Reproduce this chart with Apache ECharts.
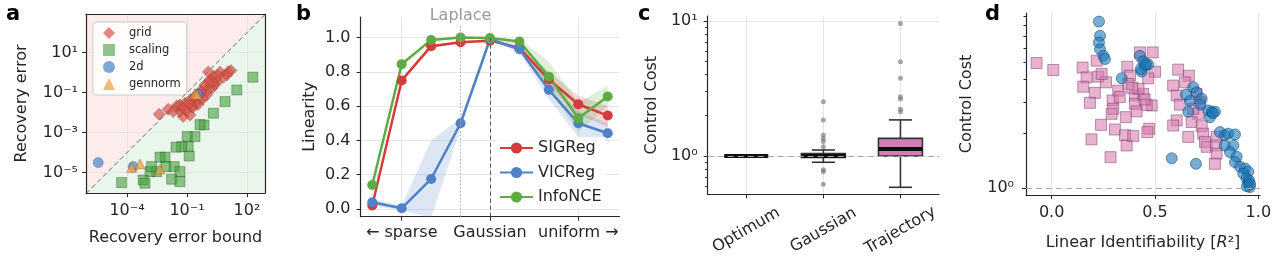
<!DOCTYPE html>
<html>
<head>
<meta charset="utf-8">
<script src="https://cdn.jsdelivr.net/npm/echarts@6/dist/echarts.min.js"></script>
<style>
html, body { margin: 0; padding: 0; background: #ffffff; }
#chart { width: 1280px; height: 259px; }
</style>
</head>
<body>
<div id="chart"></div>
<script>
// ---- panel a: recovery error vs bound (log10 of both) ----
const gridLog10 = [
    [-2.39, -2.08], [-1.94, -1.83], [-1.52, -1.67], [-1.35, -1.95], [-1.69, -1.95],
    [-1.19, -2.2], [-0.85, -2.12], [-1.35, -1.62], [-1.1, -1.53], [-1.02, -1.87],
    [-0.85, -1.37], [-0.69, -1.73], [-0.52, -1.12], [-0.35, -1.37], [-0.27, -0.87],
    [-0.1, -0.62], [-0.02, -1.12], [0.15, -0.37], [0.24, -0.78], [0.32, -0.2],
    [0.49, -0.45], [0.65, 0.03], [1.07, 0.05], [0.99, -0.12], [0.07, 0.03],
    [-0.6, -1.5], [-0.45, -1.6], [-0.2, -1.3], [0.0, -0.9], [0.4, -0.6],
    [0.8, -0.25], [-0.8, -1.7], [-1.2, -1.75], [-0.3, -1.0], [0.55, -0.15],
    [1.2, 0.1], [0.3, -0.5], [-0.6, -1.2], [0.1, -0.5], [-0.9, -1.55]
];
const scalingLog10 = [
    [2.29, -0.23], [1.49, -0.87], [0.9, -1.45], [0.32, -2.03], [-0.15, -2.62],
    [-0.35, -2.6], [-0.6, -3.2], [-0.99, -3.2], [-0.94, -3.7], [-1.27, -3.7],
    [-1.55, -3.73], [-0.89, -4.17], [-2.1, -4.23], [-2.35, -4.23], [-2.05, -4.7],
    [-2.52, -4.95], [-2.85, -4.95], [-1.64, -4.7], [-1.35, -4.95], [-1.77, -5.33],
    [-1.35, -5.45], [-3.19, -5.37], [-3.1, -5.53], [-4.27, -5.5], [-2.77, -4.7]
];
const twoDLog10 = [[-5.44, -4.5], [-3.69, -4.7], [-0.44, -1.07]];
const gennormLog10 = [[-0.6, -1.07], [-0.5, -1.1], [-3.77, -4.75], [-3.35, -4.57], [-2.35, -4.82]];
const aXTicks = [-4, -1, 2];
const aYTicks = [-5, -3, -1, 1];

// ---- panel b: linearity across source distributions ----
const distTickPos = [1, 4, 7];
const distTickNames = ['← sparse', 'Gaussian', 'uniform →'];
const sigreg = [0.02, 0.75, 0.95, 0.973, 0.982, 0.94, 0.755, 0.611, 0.545];
const vicreg = [0.039, 0.004, 0.175, 0.5, 0.99, 0.932, 0.695, 0.5, 0.442];
const infonce = [0.14, 0.845, 0.986, 1.0, 0.998, 0.977, 0.772, 0.53, 0.656];
const sigLo = [0.01, 0.74, 0.94, 0.965, 0.975, 0.93, 0.72, 0.55, 0.48];
const sigHi = [0.03, 0.76, 0.96, 0.98, 0.99, 0.955, 0.8, 0.66, 0.6];
const vicLo = [0.02, -0.01, -0.05, 0.47, 0.98, 0.915, 0.64, 0.42, 0.4];
const vicHi = [0.06, 0.02, 0.4, 0.53, 1.0, 0.945, 0.74, 0.57, 0.5];
const infLo = [0.12, 0.83, 0.98, 0.995, 0.99, 0.96, 0.7, 0.45, 0.6];
const infHi = [0.16, 0.86, 0.99, 1.005, 1.0, 0.99, 0.86, 0.62, 0.72];
const bYTicks = [0, 0.2, 0.4, 0.6, 0.8, 1.0];

// ---- panel c: control cost boxplots ----
const ccCats = ['Optimum', 'Gaussian', 'Trajectory'];
const ccBoxes = [ // min, q1, median, q3, max
    [1.0, 1.0, 1.0, 1.0, 1.0],
    [0.898, 0.975, 1.0, 1.04, 1.107],
    [0.586, 1.0, 1.127, 1.35, 1.85]
];
const ccGaussOut = [2.52, 1.85, 1.43, 1.35, 1.28, 1.17, 0.79, 0.765, 0.617];
const ccTrajOut = [9.6, 5.0, 3.76, 2.75, 2.64, 2.22, 2.13];

// ---- panel d: control cost vs linear identifiability ----
const pinkPts = [
    [-0.073, 4.94], [0.008, 4.52], [0.15, 4.66], [0.169, 4.11], [0.153, 3.65],
    [0.218, 5.09], [0.226, 4.15], [0.263, 3.86], [0.209, 3.37], [0.185, 2.97],
    [0.239, 2.24], [0.193, 1.86], [0.285, 1.48], [0.242, 4.3], [0.322, 3.47],
    [0.295, 3.06], [0.298, 2.75], [0.29, 2.58], [0.306, 2.11], [0.359, 2.47],
    [0.355, 1.96], [0.363, 1.72], [0.395, 1.94], [0.366, 4.71], [0.379, 4.21],
    [0.371, 3.78], [0.403, 3.26], [0.403, 2.93], [0.411, 2.66], [0.427, 5.66],
    [0.489, 5.66], [0.5, 4.42], [0.467, 4.06], [0.443, 3.33], [0.484, 2.87],
    [0.46, 2.89], [0.472, 2.13], [0.463, 2.04], [0.612, 4.54], [0.664, 4.2],
    [0.588, 3.7], [0.605, 3.26], [0.621, 2.9], [0.645, 3.86], [0.701, 3.33],
    [0.717, 2.99], [0.709, 2.58], [0.677, 2.32], [0.605, 2.37], [0.588, 2.22],
    [0.661, 1.92], [0.726, 2.2], [0.733, 2.0], [0.742, 1.8], [0.75, 1.69],
    [0.798, 1.92], [0.795, 1.72], [0.798, 1.55], [0.79, 1.36], [0.685, 2.75],
    [0.42, 3.55], [0.45, 3.1], [0.39, 3.6], [0.33, 3.2]
];
const bluePts = [
    [0.229, 8.4], [0.234, 7.0], [0.229, 6.43], [0.234, 5.9], [0.25, 5.42],
    [0.258, 5.2], [0.339, 4.06], [0.427, 5.42], [0.443, 5.05], [0.467, 4.85],
    [0.435, 4.43], [0.451, 4.75], [0.432, 4.58], [0.456, 4.88], [0.685, 3.62],
    [0.701, 3.4], [0.669, 3.05], [0.661, 2.65], [0.726, 3.13], [0.758, 2.69],
    [0.774, 2.64], [0.79, 2.65], [0.766, 2.47], [0.814, 2.04], [0.838, 1.96],
    [0.854, 2.0], [0.887, 1.98], [0.838, 1.72], [0.879, 1.72], [0.863, 1.58],
    [0.895, 1.49], [0.887, 1.39], [0.911, 1.31], [0.935, 1.28], [0.951, 1.23],
    [0.927, 1.2], [0.943, 1.13], [0.951, 1.06], [0.959, 1.01], [0.581, 1.46],
    [0.698, 1.36], [0.65, 3.3], [0.72, 2.9], [0.78, 2.6], [0.955, 1.1],
    [0.945, 1.02], [0.96, 1.05]
];
const dXTicks = [0, 0.5, 1.0];

const FONT = 'DejaVu Sans';
const INK = '#262626';
const GRIDC = '#e6e6e6';
const SUP = { '0': '⁰', '1': '¹', '2': '²', '3': '³', '4': '⁴', '5': '⁵', '6': '⁶', '7': '⁷', '8': '⁸', '9': '⁹', '-': '⁻' };

function logLabel(v) {
    return '10' + String(Math.round(v)).split('').map((ch) => SUP[ch]).join('');
}

// axis limits (log10 where the plot is log scaled)
const A_X = [-6.05, 2.9];
const A_Y = [-6.02, 2.93];
const B_X = [-0.4, 8.4];
const B_Y = [-0.045, 1.12];
const C_Y = [-0.284, 1.037];
const D_X = [-0.124, 1.008];
const D_Y = [-0.04, 0.972];

const cMinor = [0.6, 0.7, 0.8, 0.9, 2, 3, 4, 5, 6, 7, 8, 9].map(Math.log10);
const dMinor = [2, 3, 4, 5, 6, 7, 8, 9].map(Math.log10);

function mkAxis(o) {
    const label = {
        show: !!o.labels,
        color: INK,
        fontSize: 16,
        fontFamily: FONT,
        margin: o.margin || 8
    };
    if (o.ticks) label.customValues = o.ticks;
    if (o.fmt) label.formatter = o.fmt;
    if (o.rotate) {
        label.rotate = o.rotate;
        label.align = 'center';
        label.verticalAlign = 'middle';
    }
    const tick = {
        show: !!o.ticks,
        length: o.tickLen || 4,
        lineStyle: { color: INK, width: 1 }
    };
    if (o.ticks) tick.customValues = o.ticks;
    return {
        type: 'value',
        gridIndex: o.grid,
        position: o.pos,
        min: o.min,
        max: o.max,
        scale: true,
        name: o.name || '',
        nameLocation: 'middle',
        nameGap: o.nameGap || 0,
        nameMoveOverlap: false,
        nameTextStyle: Object.assign({ color: INK, fontSize: 16, fontFamily: FONT }, o.nameStyle || {}),
        axisLine: { show: o.line !== false, onZero: false, lineStyle: { color: INK, width: 1.2 } },
        axisTick: tick,
        axisLabel: label,
        splitLine: { show: !!o.split, lineStyle: { color: GRIDC, width: 1 } },
        z: o.z || 0
    };
}

function band(xi, yi, lo, hi, color) {
    return {
        type: 'custom',
        xAxisIndex: xi,
        yAxisIndex: yi,
        clip: true,
        silent: true,
        z: 1,
        data: [0],
        renderItem: function (params, api) {
            const top = hi.map((v, i) => api.coord([i, v]));
            const bot = lo.map((v, i) => api.coord([i, v])).reverse();
            return {
                type: 'polygon',
                shape: { points: top.concat(bot) },
                style: { fill: color, opacity: 0.2 }
            };
        }
    };
}

const BOX_W = 0.57;
const CAP_W = 0.3;

const option = {
    animation: false,
    backgroundColor: '#ffffff',
    textStyle: { fontFamily: FONT },
    grid: [
        { left: 86, top: 14, width: 179, height: 179, outerBoundsMode: 'none' },
        { left: 360.5, top: 17, width: 259, height: 199.7, outerBoundsMode: 'none' },
        { left: 707.7, top: 16, width: 231.3, height: 178.3, outerBoundsMode: 'none' },
        { left: 1026, top: 13, width: 234, height: 182, outerBoundsMode: 'none' }
    ],
    xAxis: [
        mkAxis({ grid: 0, pos: 'bottom', min: A_X[0], max: A_X[1], ticks: aXTicks, labels: true, fmt: logLabel,
            margin: 10, split: true, name: 'Recovery error bound', nameGap: 37, z: 3 }),
        mkAxis({ grid: 0, pos: 'top', min: A_X[0], max: A_X[1], z: 3 }),
        mkAxis({ grid: 1, pos: 'bottom', min: B_X[0], max: B_X[1], ticks: distTickPos, labels: true,
            fmt: (v) => distTickNames[distTickPos.indexOf(Math.round(v))], margin: 8, split: true }),
        mkAxis({ grid: 2, pos: 'bottom', min: -0.5, max: 2.5, ticks: [0, 1, 2], labels: true,
            fmt: (v) => ccCats[Math.round(v)], rotate: 30, margin: 36, split: true }),
        mkAxis({ grid: 3, pos: 'bottom', min: D_X[0], max: D_X[1], ticks: dXTicks, labels: true,
            fmt: (v) => v.toFixed(1), margin: 10, split: true,
            name: 'Linear Identifiability [{i|R}²]', nameGap: 40,
            nameStyle: { rich: { i: { fontStyle: 'italic', fontSize: 16, fontFamily: FONT, color: INK } } } })
    ],
    yAxis: [
        mkAxis({ grid: 0, pos: 'left', min: A_Y[0], max: A_Y[1], ticks: aYTicks, labels: true, fmt: logLabel,
            margin: 8, split: true, name: 'Recovery error', nameGap: 56, z: 3 }),
        mkAxis({ grid: 0, pos: 'right', min: A_Y[0], max: A_Y[1], z: 3 }),
        mkAxis({ grid: 1, pos: 'left', min: B_Y[0], max: B_Y[1], ticks: bYTicks, labels: true,
            fmt: (v) => v.toFixed(1), margin: 10, split: true, name: 'Linearity', nameGap: 43 }),
        mkAxis({ grid: 2, pos: 'left', min: C_Y[0], max: C_Y[1], ticks: [0, 1], labels: true, fmt: logLabel,
            margin: 10, split: true, name: 'Control Cost', nameGap: 48 }),
        mkAxis({ grid: 2, pos: 'left', min: C_Y[0], max: C_Y[1], ticks: cMinor, tickLen: 2.5, line: false }),
        mkAxis({ grid: 3, pos: 'left', min: D_Y[0], max: D_Y[1], ticks: [0], labels: true, fmt: logLabel,
            margin: 12, name: 'Control Cost', nameGap: 51 }),
        mkAxis({ grid: 3, pos: 'left', min: D_Y[0], max: D_Y[1], ticks: dMinor, tickLen: 2.5, line: false })
    ],
    legend: [
        {
            data: ['grid', 'scaling', '2d', 'gennorm'],
            orient: 'vertical',
            left: 93,
            top: 22,
            padding: [4, 6, 4, 10],
            itemWidth: 12,
            itemHeight: 12,
            itemGap: 3,
            backgroundColor: 'rgba(255,255,255,0.85)',
            borderColor: '#cccccc',
            borderWidth: 1,
            borderRadius: 3,
            itemStyle: { borderWidth: 0 },
            textStyle: { fontSize: 11.5, fontFamily: FONT, color: INK, lineHeight: 14, padding: [0, 0, 0, 9] }
        },
        {
            data: ['SIGReg', 'VICReg', 'InfoNCE'],
            orient: 'vertical',
            left: 497,
            top: 137,
            padding: [2, 4, 2, 2],
            itemWidth: 33,
            itemHeight: 14,
            itemGap: 6.5,
            backgroundColor: 'rgba(255,255,255,0.8)',
            textStyle: { fontSize: 16, fontFamily: FONT, color: INK, lineHeight: 18 }
        }
    ],
    graphic: [
        { type: 'text', left: 6, top: 4, style: { text: 'a', font: 'bold 21px "DejaVu Sans"', fill: '#000' } },
        { type: 'text', left: 296, top: 4, style: { text: 'b', font: 'bold 21px "DejaVu Sans"', fill: '#000' } },
        { type: 'text', left: 638, top: 4, style: { text: 'c', font: 'bold 21px "DejaVu Sans"', fill: '#000' } },
        { type: 'text', left: 985, top: 4, style: { text: 'd', font: 'bold 21px "DejaVu Sans"', fill: '#000' } }
    ],
    series: [
        // panel a background halves and diagonal
        {
            type: 'line', xAxisIndex: 0, yAxisIndex: 0, silent: true, z: 0,
            data: [[A_X[0], A_X[0]], [A_X[1], A_X[1]]], symbol: 'none',
            lineStyle: { width: 0 }, areaStyle: { color: '#eaf5eb', opacity: 1, origin: 'start' }
        },
        {
            type: 'line', xAxisIndex: 0, yAxisIndex: 0, silent: true, z: 0,
            data: [[A_X[0], A_X[0]], [A_X[1], A_X[1]]], symbol: 'none',
            lineStyle: { width: 0 }, areaStyle: { color: '#fcecec', opacity: 1, origin: 'end' }
        },
        {
            type: 'line', xAxisIndex: 0, yAxisIndex: 0, silent: true, z: 4,
            data: [[A_X[0], A_X[0]], [A_X[1], A_X[1]]], symbol: 'none',
            lineStyle: { color: '#666', width: 1, type: [5, 3] }
        },
        {
            name: 'grid', type: 'scatter', xAxisIndex: 0, yAxisIndex: 0, z: 4,
            data: gridLog10, symbol: 'diamond', symbolSize: 12, symbolKeepAspect: true,
            itemStyle: { color: 'rgba(214,80,70,0.85)', borderColor: 'rgba(122,42,36,0.7)', borderWidth: 0.6 }
        },
        {
            name: 'scaling', type: 'scatter', xAxisIndex: 0, yAxisIndex: 0, z: 4,
            data: scalingLog10, symbol: 'rect', symbolSize: 10, symbolKeepAspect: true,
            itemStyle: { color: 'rgba(70,160,60,0.75)', borderColor: 'rgba(30,80,25,0.8)', borderWidth: 0.6 }
        },
        {
            name: '2d', type: 'scatter', xAxisIndex: 0, yAxisIndex: 0, z: 4,
            data: twoDLog10, symbol: 'circle', symbolSize: 10, symbolKeepAspect: true,
            itemStyle: { color: 'rgba(80,135,205,0.9)', borderColor: 'rgba(42,74,122,0.7)', borderWidth: 0.6 }
        },
        {
            name: 'gennorm', type: 'scatter', xAxisIndex: 0, yAxisIndex: 0, z: 4,
            data: gennormLog10, symbol: 'triangle', symbolSize: 10, symbolKeepAspect: true,
            itemStyle: { color: 'rgba(240,160,60,0.9)', borderColor: 'rgba(122,80,32,0.7)', borderWidth: 0.6 }
        },

        // panel b
        band(2, 2, sigLo, sigHi, '#d23c3c'),
        band(2, 2, vicLo, vicHi, '#4f81c7'),
        band(2, 2, infLo, infHi, '#5fab43'),
        {
            name: 'SIGReg', type: 'line', xAxisIndex: 2, yAxisIndex: 2, z: 3,
            data: sigreg.map((v, i) => [i, v]), symbol: 'circle', symbolSize: 10,
            lineStyle: { color: '#d23c3c', width: 2.5 }, itemStyle: { color: '#d23c3c' },
            markLine: {
                silent: true, symbol: 'none', animation: false,
                label: { show: false },
                data: [
                    [
                        { coord: [3, B_Y[0]], lineStyle: { type: [1.5, 2], color: '#aaaaaa', width: 1 },
                          label: { show: true, position: 'end', formatter: 'Laplace', distance: 2,
                                   color: '#999999', fontSize: 16, fontFamily: FONT } },
                        { coord: [3, 1.07] }
                    ],
                    [
                        { coord: [4, B_Y[0]], lineStyle: { type: [4, 3], color: '#555555', width: 1 } },
                        { coord: [4, 1.0] }
                    ]
                ]
            }
        },
        {
            name: 'VICReg', type: 'line', xAxisIndex: 2, yAxisIndex: 2, z: 3,
            data: vicreg.map((v, i) => [i, v]), symbol: 'circle', symbolSize: 10,
            lineStyle: { color: '#4f81c7', width: 2.5 }, itemStyle: { color: '#4f81c7' }
        },
        {
            name: 'InfoNCE', type: 'line', xAxisIndex: 2, yAxisIndex: 2, z: 3,
            data: infonce.map((v, i) => [i, v]), symbol: 'circle', symbolSize: 10,
            lineStyle: { color: '#5fab43', width: 2.5 }, itemStyle: { color: '#5fab43' }
        },

        // panel c
        {
            type: 'custom', xAxisIndex: 3, yAxisIndex: 3, z: 3, silent: true,
            data: ccBoxes.map((b, i) => [i].concat(b.map(Math.log10))),
            renderItem: function (params, api) {
                const i = api.value(0);
                const w = api.size([BOX_W, 0])[0];
                const cw = api.size([CAP_W, 0])[0];
                const lo = api.coord([i, api.value(1)]);
                const q1 = api.coord([i, api.value(2)]);
                const md = api.coord([i, api.value(3)]);
                const q3 = api.coord([i, api.value(4)]);
                const hi = api.coord([i, api.value(5)]);
                const cx = lo[0];
                const ws = { stroke: '#333333', lineWidth: 1.6 };
                return {
                    type: 'group',
                    children: [
                        { type: 'line', shape: { x1: cx, y1: hi[1], x2: cx, y2: q3[1] }, style: ws },
                        { type: 'line', shape: { x1: cx, y1: q1[1], x2: cx, y2: lo[1] }, style: ws },
                        { type: 'line', shape: { x1: cx - cw / 2, y1: hi[1], x2: cx + cw / 2, y2: hi[1] }, style: ws },
                        { type: 'line', shape: { x1: cx - cw / 2, y1: lo[1], x2: cx + cw / 2, y2: lo[1] }, style: ws },
                        { type: 'rect', shape: { x: cx - w / 2, y: q3[1], width: w, height: q1[1] - q3[1] },
                          style: { fill: '#d47fb3', stroke: '#333333', lineWidth: 1.6 } },
                        { type: 'line', shape: { x1: cx - w / 2, y1: md[1], x2: cx + w / 2, y2: md[1] },
                          style: { stroke: '#111111', lineWidth: 4 } }
                    ]
                };
            }
        },
        {
            type: 'scatter', xAxisIndex: 3, yAxisIndex: 3, z: 2, silent: true,
            data: ccGaussOut.map((v) => [1, Math.log10(v)]).concat(ccTrajOut.map((v) => [2, Math.log10(v)])),
            symbol: 'circle', symbolSize: 5,
            itemStyle: { color: 'rgba(110,110,110,0.75)' },
            markLine: {
                silent: true, symbol: 'none', animation: false, label: { show: false },
                lineStyle: { color: '#aaaaaa', width: 1.2, type: [6, 4] },
                data: [{ yAxis: 0 }]
            }
        },

        // panel d
        {
            type: 'scatter', xAxisIndex: 4, yAxisIndex: 5, z: 3,
            data: pinkPts.map((p) => [p[0], Math.log10(p[1])]),
            symbol: 'rect', symbolSize: 11,
            itemStyle: { color: 'rgba(212,120,172,0.7)', borderColor: 'rgba(120,60,100,0.8)', borderWidth: 0.8 },
            markLine: {
                silent: true, symbol: 'none', animation: false, label: { show: false },
                lineStyle: { color: '#aaaaaa', width: 1.2, type: [6, 4] },
                data: [{ yAxis: 0 }]
            }
        },
        {
            type: 'scatter', xAxisIndex: 4, yAxisIndex: 5, z: 4,
            data: bluePts.map((p) => [p[0], Math.log10(p[1])]),
            symbol: 'circle', symbolSize: 11,
            itemStyle: { color: 'rgba(30,120,185,0.75)', borderColor: 'rgba(12,74,120,0.9)', borderWidth: 0.8 }
        }
    ]
};

const chart = echarts.init(document.getElementById('chart'), null, { renderer: 'canvas' });
chart.setOption(option);
</script>
</body>
</html>
